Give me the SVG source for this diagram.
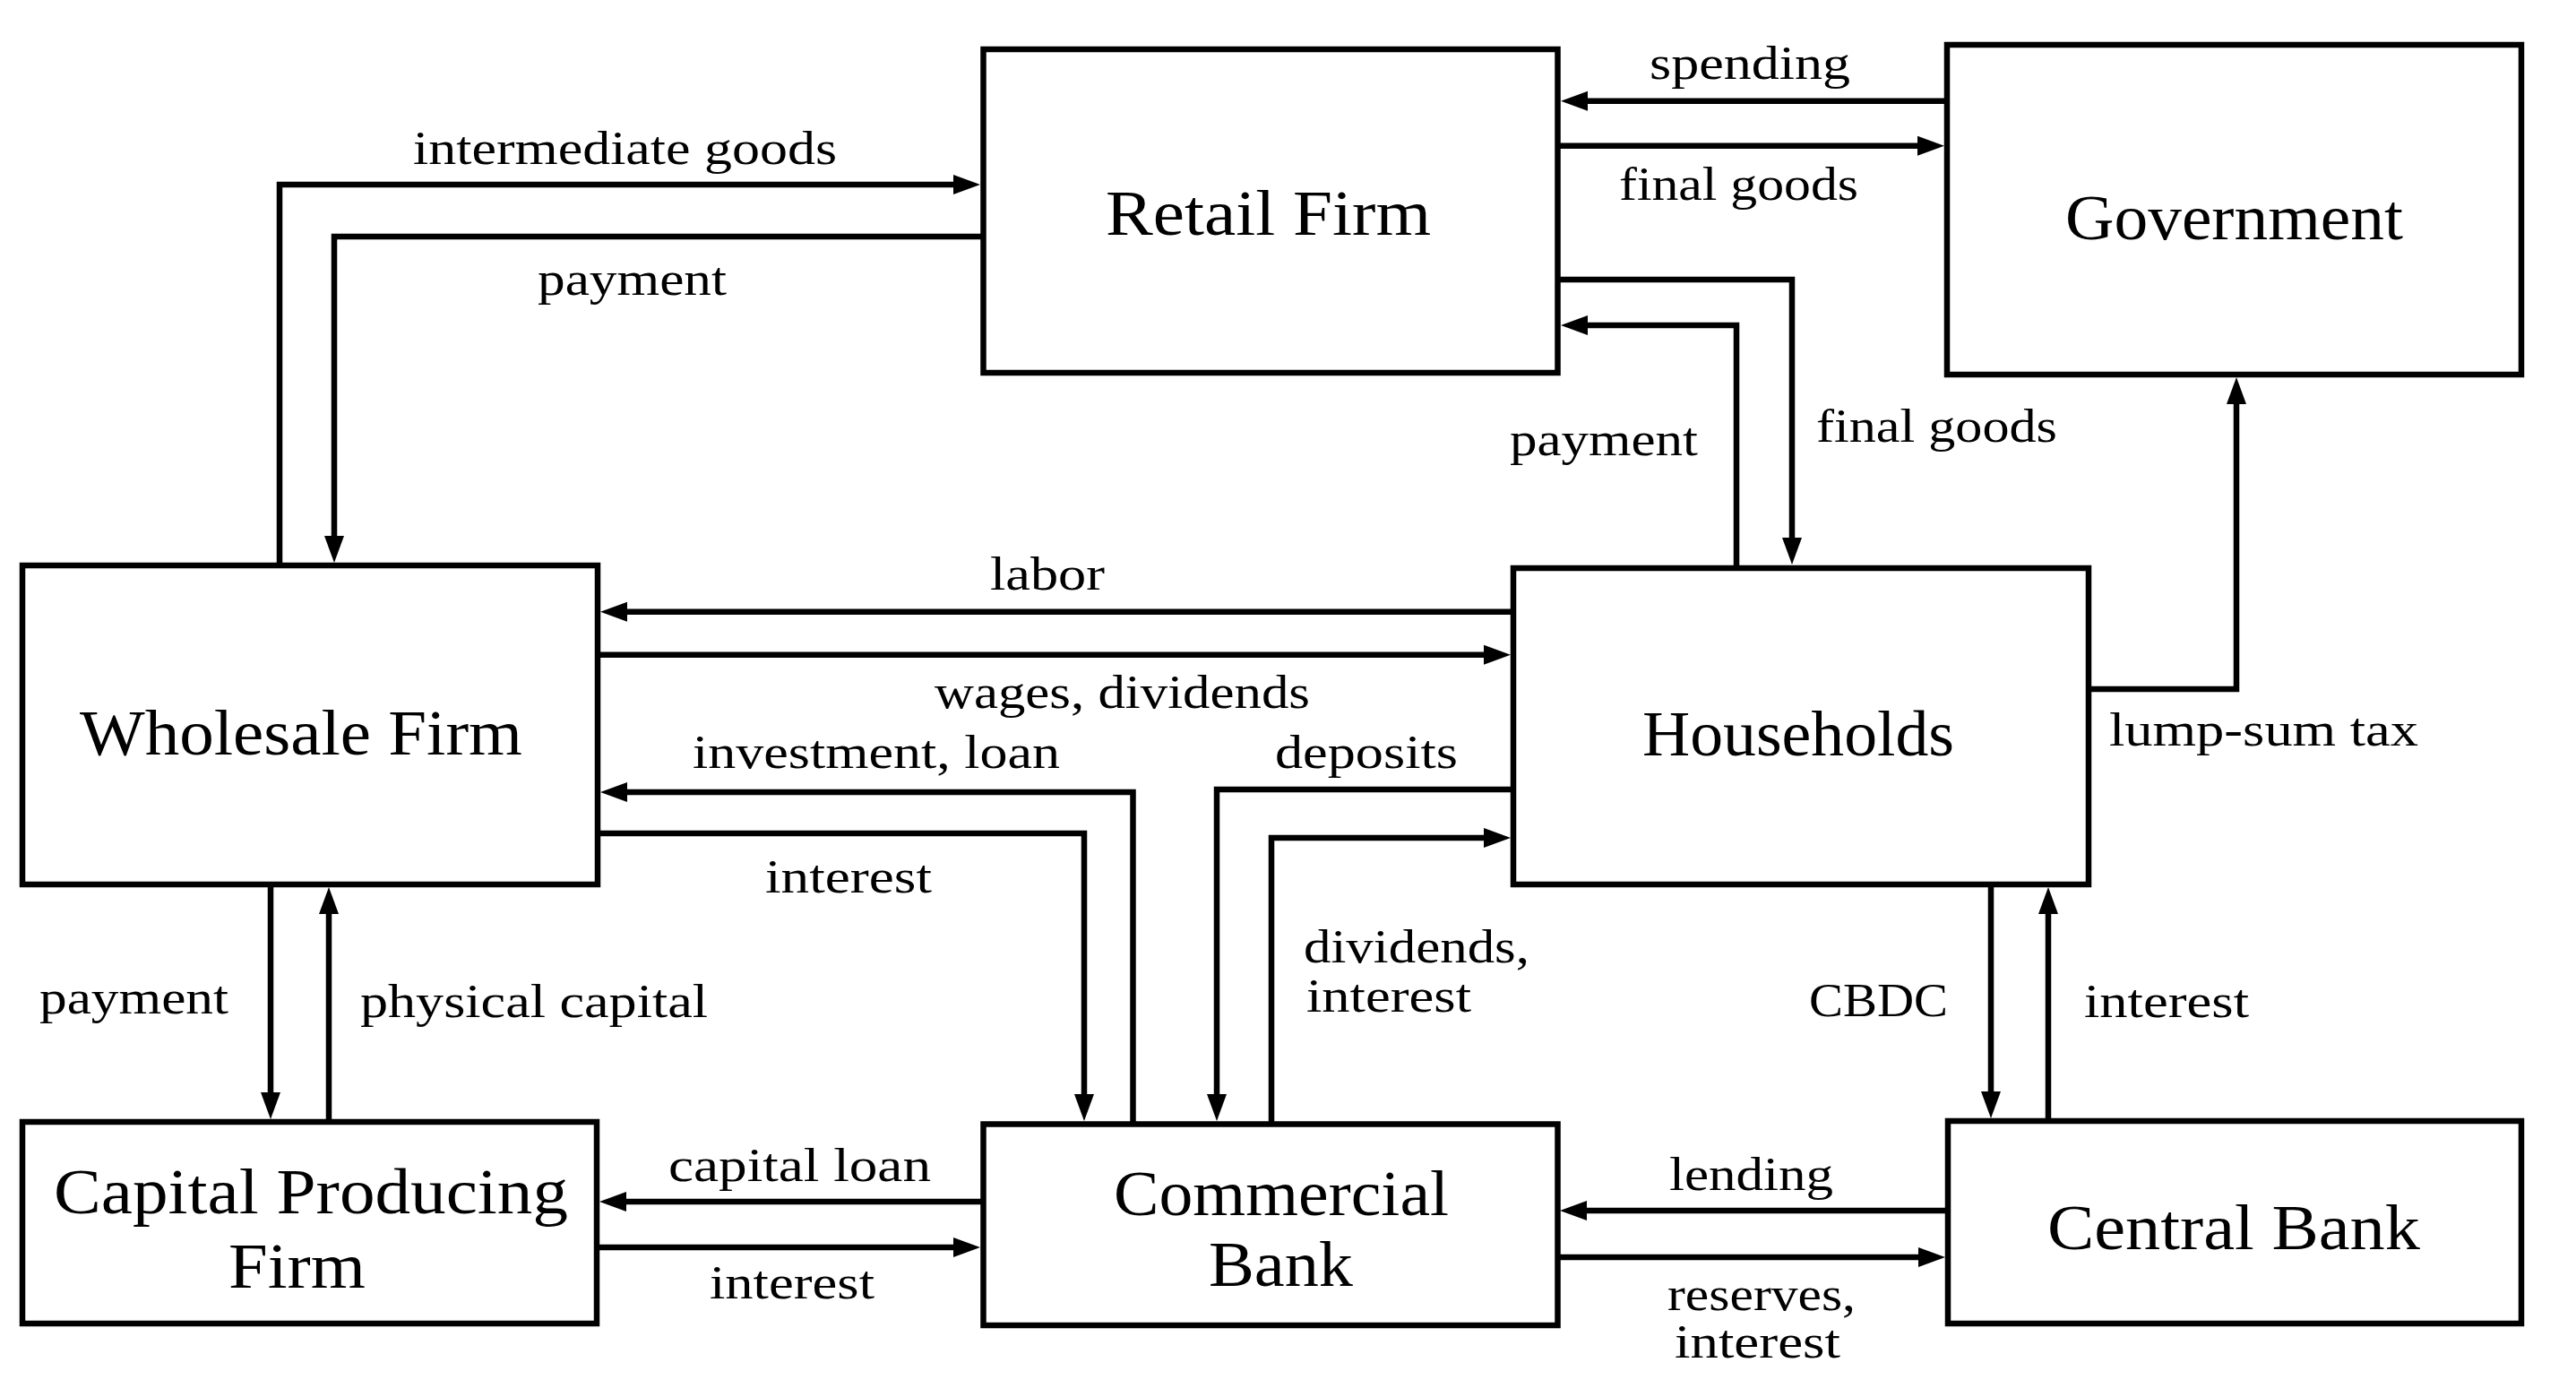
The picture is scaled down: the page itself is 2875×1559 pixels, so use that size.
<svg xmlns="http://www.w3.org/2000/svg" width="2875" height="1559" viewBox="0 0 2875 1559">
<style>
.box{fill:#fff;stroke:#000;stroke-width:6.5}
.node{font-family:"Liberation Serif","Times New Roman",serif;font-size:72px;fill:#000}
.lbl{font-family:"Liberation Serif","Times New Roman",serif;font-size:53px;fill:#000}
.c{fill:none;stroke:#000;stroke-width:6.5;stroke-linejoin:miter;marker-end:url(#ah)}
</style>
<defs>
<marker id="ah" markerUnits="userSpaceOnUse" viewBox="0 -12 32 24" refX="2" refY="0" markerWidth="32" markerHeight="24" orient="auto">
<path d="M0,-11 L30,0 L0,11 Z" fill="#000"/>
</marker>
</defs>
<rect width="2875" height="1559" fill="#fff"/>

<g id="connectors">
<path class="c" d="M312,631 V206 H1066"/>
<path class="c" d="M1097,264 H373 V600"/>
<path class="c" d="M2173,112.7 H1770"/>
<path class="c" d="M1738,162.7 H2142"/>
<path class="c" d="M1738,312 H2000 V602"/>
<path class="c" d="M1938,634 V363 H1770"/>
<path class="c" d="M2331,769 H2496 V449"/>
<path class="c" d="M1689,682.7 H698"/>
<path class="c" d="M666,730.7 H1658"/>
<path class="c" d="M1264.5,1255 V884 H698"/>
<path class="c" d="M666,930 H1210 V1223"/>
<path class="c" d="M1689,881 H1358 V1223"/>
<path class="c" d="M1419,1255 V935 H1658"/>
<path class="c" d="M302,987 V1221"/>
<path class="c" d="M367,1252 V1018"/>
<path class="c" d="M1097,1341 H697"/>
<path class="c" d="M666,1392 H1066"/>
<path class="c" d="M2174,1351 H1769"/>
<path class="c" d="M1738,1403 H2143"/>
<path class="c" d="M2222,987 V1220"/>
<path class="c" d="M2286,1251 V1018"/>
</g>

<g id="retail-firm">
<rect class="box" x="1097.5" y="55" width="641" height="361"/>
<text class="node" x="1234" y="262" textLength="363" lengthAdjust="spacingAndGlyphs">Retail Firm</text>
</g>
<g id="government">
<rect class="box" x="2173" y="50" width="641" height="368"/>
<text class="node" x="2305" y="267" textLength="377" lengthAdjust="spacingAndGlyphs">Government</text>
</g>
<g id="wholesale-firm">
<rect class="box" x="25" y="631" width="642" height="356"/>
<text class="node" x="89" y="842" textLength="494" lengthAdjust="spacingAndGlyphs">Wholesale Firm</text>
</g>
<g id="households">
<rect class="box" x="1689" y="634" width="642" height="353"/>
<text class="node" x="1833" y="843" textLength="348" lengthAdjust="spacingAndGlyphs">Households</text>
</g>
<g id="capital-producing-firm">
<rect class="box" x="25" y="1252" width="641" height="225"/>
<text class="node" x="60" y="1354" textLength="574" lengthAdjust="spacingAndGlyphs">Capital Producing</text>
<text class="node" x="255" y="1437" textLength="153" lengthAdjust="spacingAndGlyphs">Firm</text>
</g>
<g id="commercial-bank">
<rect class="box" x="1097.5" y="1254.5" width="641" height="224.5"/>
<text class="node" x="1243" y="1356" textLength="374" lengthAdjust="spacingAndGlyphs">Commercial</text>
<text class="node" x="1349" y="1435" textLength="161" lengthAdjust="spacingAndGlyphs">Bank</text>
</g>
<g id="central-bank">
<rect class="box" x="2174" y="1251" width="640" height="226"/>
<text class="node" x="2285" y="1394" textLength="416" lengthAdjust="spacingAndGlyphs">Central Bank</text>
</g>

<g id="connector-labels">
<text class="lbl" x="461" y="183" textLength="473" lengthAdjust="spacingAndGlyphs">intermediate goods</text>
<text class="lbl" x="600" y="329" textLength="211" lengthAdjust="spacingAndGlyphs">payment</text>
<text class="lbl" x="1841" y="88" textLength="224" lengthAdjust="spacingAndGlyphs">spending</text>
<text class="lbl" x="1807" y="223" textLength="267" lengthAdjust="spacingAndGlyphs">final goods</text>
<text class="lbl" x="1685" y="508" textLength="210" lengthAdjust="spacingAndGlyphs">payment</text>
<text class="lbl" x="2027" y="493" textLength="269" lengthAdjust="spacingAndGlyphs">final goods</text>
<text class="lbl" x="2354" y="832" textLength="345" lengthAdjust="spacingAndGlyphs">lump-sum tax</text>
<text class="lbl" x="1105" y="658" textLength="128" lengthAdjust="spacingAndGlyphs">labor</text>
<text class="lbl" x="1043" y="790" textLength="419" lengthAdjust="spacingAndGlyphs">wages, dividends</text>
<text class="lbl" x="773" y="857" textLength="410" lengthAdjust="spacingAndGlyphs">investment, loan</text>
<text class="lbl" x="1423" y="857" textLength="204" lengthAdjust="spacingAndGlyphs">deposits</text>
<text class="lbl" x="854" y="996" textLength="186" lengthAdjust="spacingAndGlyphs">interest</text>
<text class="lbl" x="1455" y="1074" textLength="252" lengthAdjust="spacingAndGlyphs">dividends,</text>
<text class="lbl" x="1458" y="1129" textLength="184" lengthAdjust="spacingAndGlyphs">interest</text>
<text class="lbl" x="44" y="1131" textLength="211" lengthAdjust="spacingAndGlyphs">payment</text>
<text class="lbl" x="402" y="1135" textLength="388" lengthAdjust="spacingAndGlyphs">physical capital</text>
<text class="lbl" x="746" y="1318" textLength="293" lengthAdjust="spacingAndGlyphs">capital loan</text>
<text class="lbl" x="792" y="1449" textLength="184" lengthAdjust="spacingAndGlyphs">interest</text>
<text class="lbl" x="1863" y="1328" textLength="183" lengthAdjust="spacingAndGlyphs">lending</text>
<text class="lbl" x="1861" y="1462" textLength="210" lengthAdjust="spacingAndGlyphs">reserves,</text>
<text class="lbl" x="1869" y="1515" textLength="185" lengthAdjust="spacingAndGlyphs">interest</text>
<text class="lbl" x="2019" y="1134" textLength="155" lengthAdjust="spacingAndGlyphs">CBDC</text>
<text class="lbl" x="2326" y="1135" textLength="184" lengthAdjust="spacingAndGlyphs">interest</text>
</g>
</svg>
